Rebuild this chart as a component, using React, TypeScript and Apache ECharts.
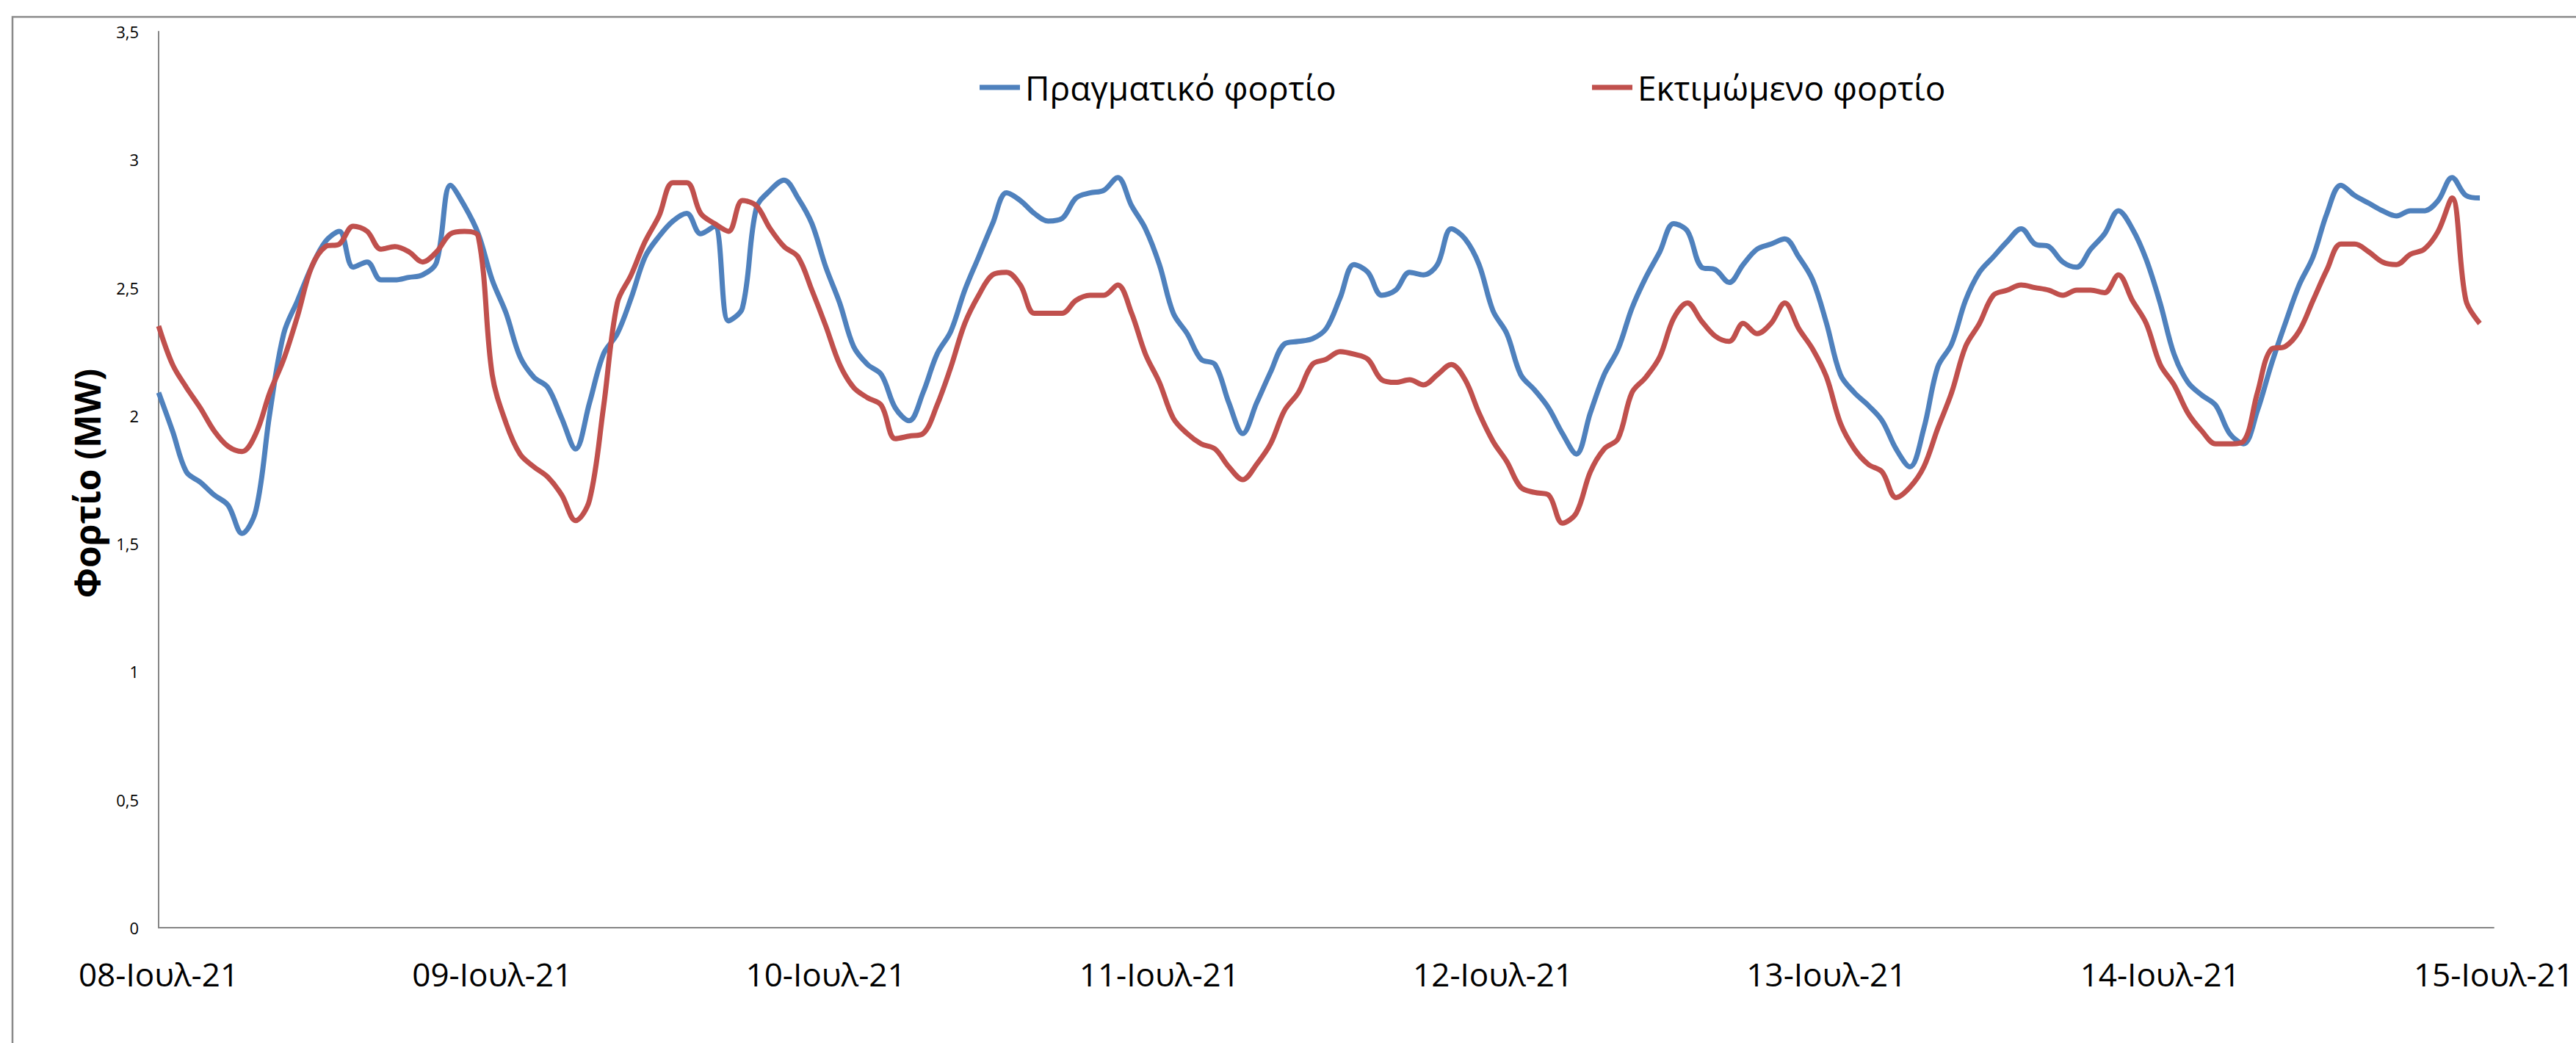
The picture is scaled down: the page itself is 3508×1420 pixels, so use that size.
import React, { useEffect, useRef } from "react";
import * as echarts from "echarts";

const dayLabels = [
  "08-Ιουλ-21", "09-Ιουλ-21", "10-Ιουλ-21", "11-Ιουλ-21",
  "12-Ιουλ-21", "13-Ιουλ-21", "14-Ιουλ-21", "15-Ιουλ-21",
];

const seriesNames = ["Πραγματικό φορτίο", "Εκτιμώμενο φορτίο"];
const yAxisTitle = "Φορτίο (MW)";

// hourly values, 08-Jul 00:00 .. 14-Jul 23:00
const actualLoad = [
  // 08
  2.09, 1.94, 1.78, 1.74, 1.69, 1.65, 1.54, 1.63, 2.01, 2.32, 2.45, 2.58, 2.68, 2.72, 2.58, 2.6, 2.53, 2.53, 2.54, 2.55, 2.6, 2.9, 2.82, 2.71,
  // 09
  2.53, 2.4, 2.23, 2.15, 2.11, 1.99, 1.87, 2.05, 2.24, 2.32, 2.46, 2.62, 2.7, 2.76, 2.79, 2.71, 2.74, 2.37, 2.42, 2.81, 2.88, 2.92, 2.85, 2.75,
  // 10
  2.58, 2.44, 2.27, 2.2, 2.16, 2.03, 1.98, 2.09, 2.24, 2.33, 2.49, 2.62, 2.75, 2.87, 2.84, 2.79, 2.76, 2.77, 2.85, 2.87, 2.88, 2.93, 2.82, 2.73,
  // 11
  2.59, 2.4, 2.32, 2.22, 2.2, 2.05, 1.93, 2.05, 2.17, 2.28, 2.29, 2.3, 2.34, 2.46, 2.59, 2.56, 2.47, 2.49, 2.56, 2.55, 2.59, 2.73, 2.69, 2.59,
  // 12
  2.41, 2.32, 2.16, 2.1, 2.03, 1.93, 1.85, 2.01, 2.16, 2.26, 2.42, 2.54, 2.64, 2.75, 2.72, 2.58, 2.57, 2.52, 2.59, 2.65, 2.67, 2.69, 2.62, 2.53,
  // 13
  2.36, 2.16, 2.09, 2.04, 1.98, 1.87, 1.8, 1.95, 2.19, 2.28, 2.45, 2.56, 2.62, 2.68, 2.73, 2.67, 2.66, 2.6, 2.58, 2.65, 2.71, 2.8, 2.73, 2.61,
  // 14
  2.44, 2.24, 2.13, 2.08, 2.04, 1.93, 1.89, 2.02, 2.2, 2.36, 2.51, 2.62, 2.79, 2.9, 2.86, 2.83, 2.8, 2.78, 2.8, 2.8, 2.84, 2.93, 2.86, 2.85,
];

const estimatedLoad = [
  // 08
  2.35, 2.2, 2.11, 2.03, 1.94, 1.88, 1.86, 1.93, 2.09, 2.22, 2.39, 2.58, 2.66, 2.67, 2.74, 2.72, 2.65, 2.66, 2.64, 2.6, 2.64, 2.71, 2.72, 2.7,
  // 09
  2.16, 1.97, 1.85, 1.8, 1.76, 1.69, 1.59, 1.67, 2.03, 2.44, 2.55, 2.68, 2.78, 2.91, 2.91, 2.79, 2.75, 2.72, 2.84, 2.82, 2.73, 2.66, 2.62, 2.49,
  // 10
  2.35, 2.2, 2.11, 2.07, 2.04, 1.91, 1.92, 1.93, 2.04, 2.19, 2.36, 2.47, 2.55, 2.56, 2.51, 2.4, 2.4, 2.4, 2.45, 2.47, 2.47, 2.51, 2.4, 2.24,
  // 11
  2.13, 1.99, 1.93, 1.89, 1.87, 1.8, 1.75, 1.81, 1.89, 2.02, 2.09, 2.2, 2.22, 2.25, 2.24, 2.22, 2.14, 2.13, 2.14, 2.12, 2.16, 2.2, 2.14, 2.01,
  // 12
  1.9, 1.82, 1.72, 1.7, 1.69, 1.58, 1.62, 1.78, 1.87, 1.91, 2.09, 2.15, 2.23, 2.38, 2.44, 2.37, 2.31, 2.29, 2.36, 2.32, 2.36, 2.44, 2.34, 2.26,
  // 13
  2.15, 1.97, 1.87, 1.81, 1.78, 1.68, 1.72, 1.8, 1.95, 2.09, 2.27, 2.36, 2.47, 2.49, 2.51, 2.5, 2.49, 2.47, 2.49, 2.49, 2.48, 2.55, 2.45, 2.36,
  // 14
  2.2, 2.12, 2.01, 1.94, 1.89, 1.89, 1.9, 2.09, 2.26, 2.27, 2.33, 2.45, 2.57, 2.67, 2.67, 2.64, 2.6, 2.59, 2.63, 2.65, 2.72, 2.85, 2.45, 2.36,
];

const HOURS_PER_DAY = 24;
const FONT = "'Open Sans', 'Noto Sans', sans-serif";
const BLUE = "#4F81BD";
const RED = "#C0504D";
const AXIS_GRAY = "#868686";

export default function App() {
  const ref = useRef<HTMLDivElement>(null);

  useEffect(() => {
    if (!ref.current) return;
    const chart = echarts.init(ref.current, null, { renderer: "svg" });

    const toPairs = (arr: number[]) => arr.map((v, i) => [i, v]);

    const legendBase = {
      top: 96,
      padding: 0,
      icon: "rect",
      itemWidth: 55,
      itemHeight: 7,
      textStyle: { fontFamily: FONT, fontSize: 46, color: "#000", padding: [0, 0, 0, 2] },
    };

    chart.setOption({
      animation: false,
      backgroundColor: "#ffffff",
      textStyle: { fontFamily: FONT },
      grid: { left: 216, right: 92, top: 43, bottom: 157, containLabel: false },
      graphic: [
        {
          type: "rect",
          z: -10,
          shape: { x: 17, y: 23, width: 3600, height: 1500 },
          style: { fill: "none", stroke: "#898989", lineWidth: 2.5 },
          silent: true,
        },
        {
          type: "text",
          x: 118,
          y: 658,
          rotation: Math.PI / 2,
          silent: true,
          style: {
            text: yAxisTitle,
            fill: "#000",
            font: `bold 48px ${FONT}`,
            align: "center",
            verticalAlign: "middle",
            textAlign: "center",
            textVerticalAlign: "middle",
          },
        },
      ],
      legend: [
        { ...legendBase, data: [seriesNames[0]], left: 1334 },
        { ...legendBase, data: [seriesNames[1]], left: 2168 },
      ],
      xAxis: {
        type: "value",
        min: 0,
        max: dayLabels.length * HOURS_PER_DAY - HOURS_PER_DAY,
        interval: HOURS_PER_DAY,
        axisLine: { show: true, lineStyle: { color: AXIS_GRAY, width: 2 } },
        axisTick: { show: false },
        splitLine: { show: false },
        axisLabel: {
          margin: 41,
          fontFamily: FONT,
          fontSize: 44,
          color: "#000",
          formatter: (v: number) => dayLabels[Math.round(v / HOURS_PER_DAY)] ?? "",
        },
      },
      yAxis: {
        type: "value",
        min: 0,
        max: 3.5,
        interval: 0.5,
        axisLine: { show: true, lineStyle: { color: AXIS_GRAY, width: 2 } },
        axisTick: { show: false },
        splitLine: { show: false },
        axisLabel: {
          margin: 27,
          fontFamily: FONT,
          fontSize: 22,
          color: "#000",
          formatter: (v: number) => String(v).replace(".", ","),
        },
      },
      series: [
        {
          name: seriesNames[0],
          type: "line",
          data: toPairs(actualLoad),
          smooth: 0.35,
          showSymbol: false,
          color: BLUE,
          lineStyle: { color: BLUE, width: 7 },
        },
        {
          name: seriesNames[1],
          type: "line",
          data: toPairs(estimatedLoad),
          smooth: 0.35,
          showSymbol: false,
          color: RED,
          lineStyle: { color: RED, width: 7 },
        },
      ],
    });

    return () => chart.dispose();
  }, []);

  return (
    <div
      ref={ref}
      style={{ position: "fixed", left: 0, top: 0, width: 3508, height: 1420, background: "#fff" }}
    />
  );
}
